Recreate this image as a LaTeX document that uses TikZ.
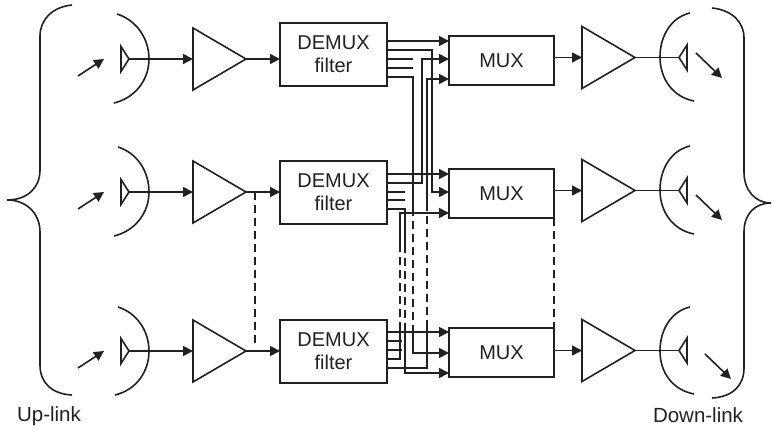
\documentclass[tikz,border=0pt]{standalone}
\usepackage{fontspec}
\setmainfont{Liberation Sans}
\usetikzlibrary{arrows.meta,shapes.geometric}
\definecolor{inkgray}{gray}{0.13}
\tikzset{
  wire/.style={draw=inkgray, line width=1.6pt},
  link/.style={wire, -{Triangle[length=10pt,width=10pt]}},
  gap/.style={wire, dash pattern=on 8pt off 5pt},
  demuxbox/.style={wire, text=inkgray, font=\fontsize{20}{23}\selectfont, align=center, minimum width=107pt, minimum height=63pt, inner sep=0pt, outer sep=0pt},
  muxbox/.style={wire, text=inkgray, font=\fontsize{20}{23}\selectfont, minimum width=105pt, minimum height=49pt, inner sep=0pt, outer sep=0pt},
  ampbox/.style={wire, isosceles triangle, isosceles triangle stretches, minimum width=62pt, minimum height=53pt, inner sep=0pt, outer sep=0pt},
  feedbox/.style={wire, isosceles triangle, isosceles triangle stretches, minimum width=25pt, minimum height=8pt, inner sep=0pt, outer sep=0pt},
  caption/.style={text=inkgray, font=\fontsize{20.5}{24}\selectfont}
}
\begin{document}
\begin{tikzpicture}[x=1pt,y=-1pt]
    \useasboundingbox (0,0) rectangle (772,430);

    % Braces
    \draw[wire] (72,5) .. controls (52,7) and (40,20) .. (40,36) -- (40,170) .. controls (40,188) and (27,200) .. (7,200) .. controls (27,200) and (40,214) .. (40,232) -- (40,365) .. controls (40,383) and (52,394) .. (72,395);
    \draw[wire] (712,8) .. controls (732,10) and (744,22) .. (744,38) -- (744,172) .. controls (744,190) and (755,203) .. (771,203) .. controls (755,203) and (744,214) .. (744,232) -- (744,368) .. controls (744,386) and (732,397) .. (712,398);

    % Up-link dishes
    \draw[wire] (117,14) .. controls (136,20) and (149,38) .. (149,59) .. controls (149,80) and (135,98) .. (114,103);
    \draw[wire] (118,147) .. controls (137,153) and (149,171) .. (149,192) .. controls (149,213) and (135,231) .. (114,236);
    \draw[wire] (118,307) .. controls (137,313) and (149,331) .. (149,351) .. controls (149,372) and (136,390) .. (115,395);

    % Down-link dishes
    \draw[wire] (690,13) .. controls (672,17) and (660,35) .. (660,57) .. controls (660,79) and (673,97) .. (694,101);
    \draw[wire] (690,146) .. controls (672,150) and (660,168) .. (660,190) .. controls (660,212) and (673,230) .. (694,234);
    \draw[wire] (690,307) .. controls (672,311) and (660,329) .. (660,351) .. controls (660,373) and (673,390) .. (694,394);

    % Feeds
    \node[feedbox, anchor=lower side] (feeda) at (121,59) {};
    \node[feedbox, anchor=lower side] (feedb) at (121,192) {};
    \node[feedbox, anchor=lower side] (feedc) at (121,351) {};
    \node[feedbox, shape border rotate=180, anchor=lower side] (feedd) at (687,57.5) {};
    \node[feedbox, shape border rotate=180, anchor=lower side] (feede) at (687,190.5) {};
    \node[feedbox, shape border rotate=180, anchor=lower side] (feedf) at (687,350.5) {};

    % Amplifiers
    \node[ampbox, anchor=lower side] (ampa) at (193,59) {};
    \node[ampbox, anchor=lower side] (ampb) at (193,192) {};
    \node[ampbox, anchor=lower side] (ampc) at (193,351) {};
    \node[ampbox, anchor=lower side] (ampd) at (582,57.5) {};
    \node[ampbox, anchor=lower side] (ampe) at (582,190.5) {};
    \node[ampbox, anchor=lower side] (ampf) at (582,350.5) {};

    % Filters and multiplexers
    \node[demuxbox] (demuxa) at (333.5,54.5) {DEMUX\\filter};
    \node[demuxbox] (demuxb) at (333.5,192.5) {DEMUX\\filter};
    \node[demuxbox] (demuxc) at (333.5,351.5) {DEMUX\\filter};
    \node[muxbox] (muxa) at (501.5,60.5) {MUX};
    \node[muxbox] (muxb) at (501.5,193.5) {MUX};
    \node[muxbox] (muxc) at (501.5,352.5) {MUX};

    % Incoming signal arrows
    \coordinate (beama) at (78,76);
    \coordinate (beamb) at (78,209);
    \coordinate (beamc) at (78,368);
    \draw[link] (beama) -- ++(26,-17);
    \draw[link] (beamb) -- ++(26,-17);
    \draw[link] (beamc) -- ++(26,-17);

    % Outgoing signal arrows
    \coordinate (beamd) at (696,53);
    \coordinate (beame) at (696,195);
    \coordinate (beamf) at (705,354);
    \draw[link] (beamd) -- ++(26,25);
    \draw[link] (beame) -- ++(26,25);
    \draw[link] (beamf) -- ++(26,25);

    % Row connections
    \draw[link] (feeda.apex) -- (ampa.lower side);
    \draw[link] (feedb.apex) -- (ampb.lower side);
    \draw[link] (feedc.apex) -- (ampc.lower side);
    \draw[link] (ampa.apex) -- (ampa.apex -| demuxa.west);
    \draw[link] (ampb.apex) -- (ampb.apex -| demuxb.west);
    \draw[link] (ampc.apex) -- (ampc.apex -| demuxc.west);
    \draw[link] (ampd.lower side -| muxa.east) -- (ampd.lower side);
    \draw[link] (ampe.lower side -| muxb.east) -- (ampe.lower side);
    \draw[link] (ampf.lower side -| muxc.east) -- (ampf.lower side);
    \draw[wire] (ampd.apex) -- (feedd.apex);
    \draw[wire] (ampe.apex) -- (feede.apex);
    \draw[wire] (ampf.apex) -- (feedf.apex);

    % Ports
    \foreach \name/\y in {a1/41, a2/50, a3/59, a4/68, a5/77, b1/174, b2/183, b3/192, b4/200, b5/209, c1/332, c2/341, c3/350, c4/359, c5/368}
        \coordinate (out\name) at (387,\y);
    \foreach \name/\y in {a1/41, a2/59, a3/79, b1/174, b2/192, b3/213, c1/332, c2/353, c3/373}
        \coordinate (in\name) at (449,\y);

    % Straight outputs and open stubs
    \draw[link] (outa1) -- (ina1);
    \draw[link] (outb1) -- (inb1);
    \draw[link] (outc1) -- (inc1);
    \draw[wire] (outa3) -- ++(26,0);
    \draw[wire] (outa4) -- ++(26,0);
    \draw[wire] (outb3) -- ++(18,0);
    \draw[wire] (outb4) -- ++(18,0);
    \draw[wire] (outc2) -- ++(15,0);
    \draw[wire] (outc3) -- ++(15,0);

    % Crossing lines without a break
    \draw[link] (outa2) -- ++(45,0) |- (inb2);
    \draw[link] (outb2) -- ++(35,0) |- (ina2);

    % Crossing lines with a dashed part
    \coordinate (breaka) at (413,208);
    \coordinate (breakb) at (413,328);
    \coordinate (breakc) at (427,208);
    \coordinate (breakd) at (427,328);
    \coordinate (breake) at (405,245);
    \coordinate (breakf) at (405,330);
    \coordinate (breakg) at (400,245);
    \coordinate (breakh) at (400,330);

    \draw[wire] (outa5) -| (breaka);
    \draw[gap] (breaka) -- (breakb);
    \draw[link] (breakb) |- (inc2);

    \draw[wire] (outc5) -| (breakd);
    \draw[gap] (breakd) -- (breakc);
    \draw[link] (breakc) |- (ina3);

    \draw[wire] (outb5) -| (breake);
    \draw[gap] (breake) -- (breakf);
    \draw[link] (breakf) |- (inc3);

    \draw[wire] (outc4) -| (breakh);
    \draw[gap] (breakh) -- (breakg);
    \draw[link] (breakg) |- (inb3);

    % Dashed links between rows
    \coordinate (rowgap) at (255,345);
    \draw[gap] (ampb.apex -| rowgap) -- (rowgap);
    \draw[gap] (muxb.south east) -- (muxc.north east);

    % Labels
    \node[caption] (uplink) at (49,416) {Up-link};
    \node[caption] (downlink) at (698,415) {Down-link};
\end{tikzpicture}
\end{document}
